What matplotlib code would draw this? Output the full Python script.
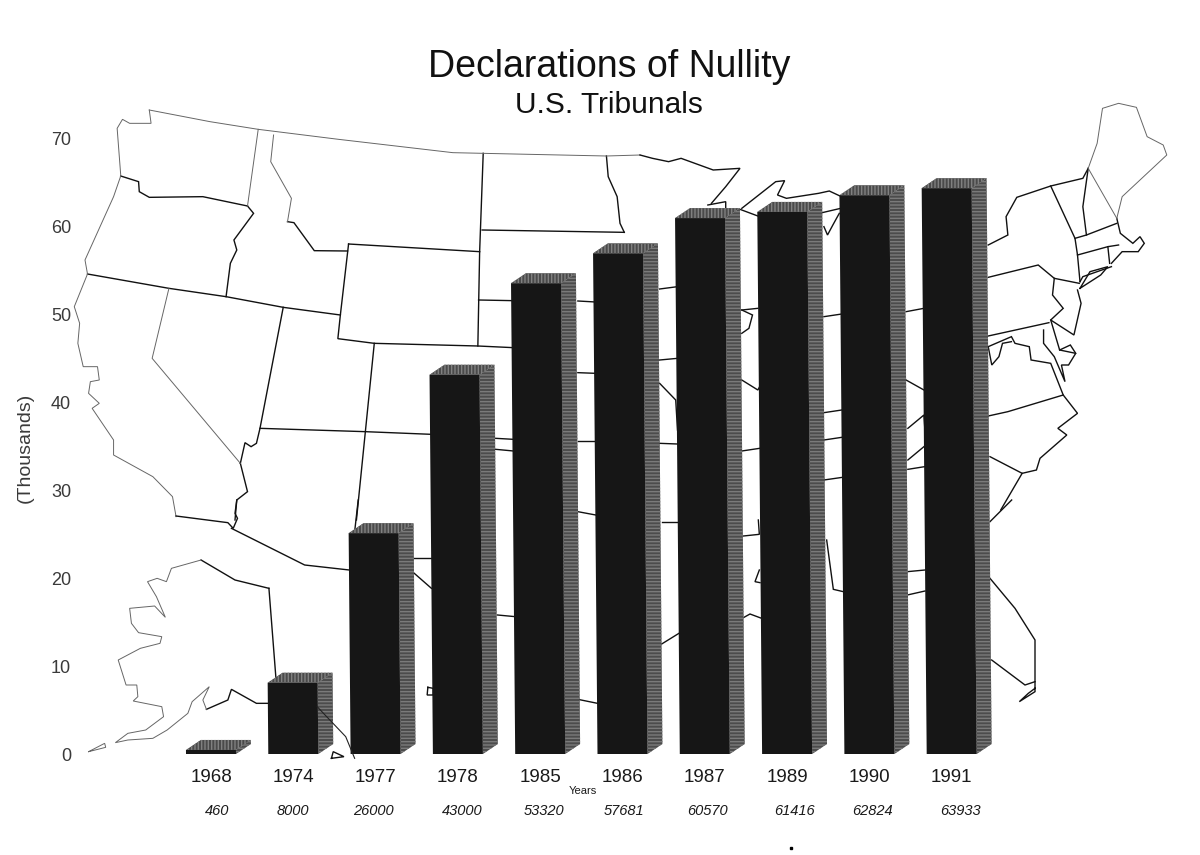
import matplotlib
matplotlib.use('Agg')
import matplotlib.pyplot as plt
from matplotlib.patches import Polygon
from matplotlib.transforms import Affine2D

plt.rcParams['font.family'] = ['Liberation Sans', 'DejaVu Sans']

# --- Dados ---
anos = ['1968', '1974', '1977', '1978', '1985', '1986', '1987', '1989', '1990', '1991']
# altura das barras como aparece na imagem (milhares)
alturas = [0.46, 8.1, 25.1, 43.1, 53.5, 56.9, 60.9, 61.6, 63.5, 64.3]
rotulos_valores = ['460', '8000', '26000', '43000', '53320', '57681', '60570', '61416', '62824', '63933']
ticks_y = [0, 10, 20, 30, 40, 50, 60, 70]

mapa_oeste = [
    [(170,228),(220,245),(222,275),(250,292),(400,290),(525,318)],
    [(525,318),(542,340),(487,420),(495,450),(477,490),(465,590)],
    [(77,522),(305,565),(465,590),(625,622),(785,645)],
    [(637,365),(655,368),(712,452),(805,453)],
    [(808,432),(1175,455)],
    [(808,432),(785,645),(778,716),(880,730),(1170,738),(1270,743)],
    [(1185,160),(1175,455),(1170,738)],
    [(1182,390),(1580,397)],
    [(1172,600),(1270,602)],
    [(1450,603),(1500,606)],
    [(1450,818),(1500,820)],
    [(1530,168),(1535,230),(1560,290),(1568,370),(1580,397)],
    [(505,1090),(525,1175),(495,1200),(490,1260)],
    [(625,622),(560,985),(550,1030),(535,1040),(518,1028),(505,1090)],
    [(560,985),(855,995),(1040,1003)],
    [(1220,1015),(1270,1018)],
    [(1220,1048),(1270,1053)],
    [(1450,1022),(1500,1022)],
    [(880,730),(855,995),(830,1260)],
]
mapa_oeste_fraco = [
    [(250,30),(255,70),(195,70),(175,58),(160,85),(170,225)],
    [(250,30),(420,65),(555,88),(780,118),(1100,158),(1185,160),(1530,168),(1624,165)],
    [(555,88),(525,318)],
    [(170,228),(150,290),(70,480),(77,522)],
    [(598,105),(590,185),(648,295),(637,365)],
    [(305,565),(258,775),(505,1090)],
    [(77,522),(40,620),(55,670),(50,730),(65,800),(105,800),(110,840),(85,845),(80,880),(110,910),(90,925),(150,1020),(150,1065),(260,1130),(315,1190),(325,1250)],
]
mapa_sudoeste = [
    [(325,48),(470,68),(485,85),(497,55),(490,40),(495,0)],
    [(480,85),(685,195),(810,210)],
    [(835,0),(825,95)],
    [(972,175),(1040,175)],
    [(960,190),(1040,265)],
    [(1225,345),(1275,350)],
    [(1450,35),(1500,45)],
    [(1450,598),(1505,610)],
    [(1030,562),(1045,565),(1045,585),(1028,585),(1030,562)],
    [(760,775),(765,755),(795,770),(760,775)],
    [(582,610),(550,610),(480,568),(470,600),(410,628)],
    [(585,265),(605,540)],
    [(395,180),(490,240),(585,265)],
]
mapa_sudoeste_fraco = [
    [(410,628),(400,600),(418,560),(370,605),(358,640),(300,690),(260,715),(190,720),(155,728),(190,700),(240,690),(290,650),(285,620),(205,603),(218,590),(215,555),(185,555),(163,480),(225,445),(280,430),(285,410),(220,398),(200,370),(195,325),(265,318),(295,352),(270,290),(245,245),(272,235),(298,245),(312,205),(395,180)],
    [(80,755),(125,730),(128,742),(80,755)],
]
# esta linha passa por cima da barra de 1974
mapa_sobre_barra = [(720,620),(800,710),(825,775)]
mapa_leste = [
    [(0,195),(35,205),(80,215),(115,205),(205,240),(280,235),(240,290),(200,340)],
    [(190,345),(240,335),(240,352)],
    [(280,358),(330,378)],
    [(285,355),(380,275),(405,272),(385,315),(410,325),(500,310),(530,303),(560,318)],
    [(510,368),(562,355)],
    [(515,410),(525,435),(540,405),(558,370)],
    [(975,465),(1030,435),(1025,380),(1055,322),(1150,288),(1240,265),(1255,235)],
    [(1335,385),(1345,430),(1380,460),(1400,440),(1412,460),(1395,485),(1350,485),(1320,520)],
    [(1150,288),(1218,445),(1225,495),(1232,575)],
    [(1255,235),(1240,350),(1250,435)],
    [(1218,445),(1250,435),(1335,400)],
    [(1225,495),(1310,470),(1340,465)],
    [(1310,470),(1315,520)],
    [(1232,575),(1240,560),(1320,530)],
    [(1232,595),(1260,545),(1310,530),(1290,555),(1232,595)],
    [(975,562),(1115,525),(1160,565),(1230,580)],
    [(1160,565),(1155,615),(1185,655),(1150,690),(1215,735),(1235,640),(1225,600)],
    [(975,738),(1145,698)],
    [(1150,690),(1175,780),(1220,790),(1200,825),(1180,825),(1190,875),(1160,800),(1130,760),(1130,720)],
    [(1175,780),(1205,765),(1220,790)],
    [(975,770),(1040,740),(1050,760),(1090,770),(1095,810),(1150,820),(1185,915)],
    [(975,770),(985,825),(1005,800),(1015,760),(1040,755)],
    [(975,978),(1030,965),(1185,915),(1225,970),(1170,1015),(1195,1035),(1120,1105),(1110,1140),(1070,1150),(980,1100)],
    [(1070,1150),(1010,1260)],
    [(55,597),(105,590)],
    [(285,660),(330,655)],
    [(285,660),(315,675),(305,715),(285,730)],
    [(515,680),(565,672)],
    [(745,665),(795,655)],
    [(55,810),(105,805)],
    [(55,880),(100,930),(105,1020)],
    [(55,1060),(105,1062)],
    [(285,870),(330,900),(335,890)],
    [(285,1083),(335,1075)],
    [(515,968),(565,960)],
    [(515,1050),(565,1042)],
    [(515,1170),(567,1162)],
    [(745,870),(795,900)],
    [(750,1015),(795,975),(797,1008)],
    [(750,1110),(795,1070)],
    [(750,1138),(797,1130)],
]
mapa_leste_fraco = [
    [(1255,235),(1280,160),(1295,55),(1340,40),(1390,52),(1420,140),(1465,165),(1475,195),(1400,270),(1350,320),(1335,385)],
    [(1255,235),(1335,385)],
]
mapa_sudeste = [
    [(1175,0),(1110,65)],
    [(1110,235),(1185,325),(1245,420),(1245,545),(1215,555),(1115,480)],
    [(1245,545),(1245,575),(1198,605),(1225,580),(1245,565)],
    [(125,65),(178,65)],
    [(370,108),(418,103),(415,60)],
    [(418,210),(405,245),(420,248)],
    [(372,352),(390,342),(425,355)],
    [(125,432),(180,398)],
    [(620,120),(640,268),(670,275)],
    [(862,215),(915,210)],
    [(862,285),(915,273)],
]
# (origem x, origem y, escala x, escala y, linhas, cor, espessura)
mapas = [
    (60, 100, 2.8, 3.0, mapa_oeste, '#111111', 1.0),
    (60, 100, 2.8, 3.0, mapa_oeste_fraco, '#666666', 0.7),
    (60, 500, 2.8, 3.0, mapa_sudoeste, '#111111', 1.0),
    (60, 500, 2.8, 3.0, mapa_sudoeste_fraco, '#666666', 0.7),
    (640, 90, 2.8, 3.0, mapa_leste, '#111111', 1.0),
    (640, 90, 2.8, 3.0, mapa_leste_fraco, '#666666', 0.7),
    (620, 500, 3.0, 3.0, mapa_sudeste, '#111111', 1.0),
]

fig = plt.figure(figsize=(12, 8.55), dpi=100, facecolor='white')

# --- Mapa de fundo (coordenadas em pixels) ---
ax_mapa = fig.add_axes([0, 0, 1, 1], zorder=1)
ax_mapa.set_xlim(0, 1200)
ax_mapa.set_ylim(855, 0)
ax_mapa.axis('off')
for ox, oy, sx, sy, linhas, cor, lw in mapas:
    for linha in linhas:
        xs = [ox + p[0] / sx for p in linha]
        ys = [oy + p[1] / sy for p in linha]
        ax_mapa.plot(xs, ys, color=cor, lw=lw, solid_joinstyle='miter')
ax_mapa.plot([791], [848], marker='s', ms=2, color='black')

# --- Barras ---
passo = 82.3
ax = fig.add_axes([60 / 1200, (855 - 754) / 855, 940 / 1200, 616 / 855], zorder=2)
ax.patch.set_alpha(0)
ax.set_xlim((60 - 211) / passo, (1000 - 211) / passo)
ax.set_ylim(0, 70)

# a folha foi digitalizada meio torta: as barras inclinam para a esquerda no topo
inclinacao = Affine2D.from_values(1, 0, -(5 / passo) / 64, 1, 0, 0) + ax.transData

largura = 50 / passo
dx = 15 / passo
dy = 10 / 8.8
for i, h in enumerate(alturas):
    esq = i - largura / 2
    dir_ = i + largura / 2
    ax.add_patch(Polygon([(dir_, 0), (dir_ + dx, dy), (dir_ + dx, h + dy), (dir_, h)],
                         facecolor='#4c4c4c', edgecolor='#7a7a7a', hatch='-----', lw=0,
                         zorder=3, transform=inclinacao))
    ax.add_patch(Polygon([(esq, h), (esq + dx, h + dy), (dir_ + dx, h + dy), (dir_, h)],
                         facecolor='#4a4a4a', edgecolor='#808080', hatch='|||||', lw=0,
                         zorder=3, transform=inclinacao))
ax.bar(range(len(alturas)), alturas, width=largura, color='#161616', zorder=4, transform=inclinacao)

for s in ax.spines.values():
    s.set_visible(False)
ax.set_yticks(ticks_y)
ax.set_xticks(range(len(anos)))
ax.set_xticklabels(anos, fontsize=13.5, color='#1a1a1a')
ax.tick_params(axis='x', length=0, pad=11)
ax.tick_params(axis='y', length=0, pad=-8, labelsize=13, labelcolor='#3a3a3a')

xs_sobre = [60 + p[0] / 2.8 for p in mapa_sobre_barra]
ys_sobre = [500 + p[1] / 3.0 for p in mapa_sobre_barra]
ax.plot(xs_sobre, ys_sobre, color='#222222', lw=0.8, zorder=5, transform=ax_mapa.transData, clip_on=False)

# rotulos em italico embaixo de cada ano
deslocamentos = [6, 0, -2, 4, 4, 1, 3, 7, 3, 9]
for i, texto in enumerate(rotulos_valores):
    ax.annotate(texto, xy=(i, 0), xytext=(deslocamentos[i] * 0.72, -57 * 0.72),
                textcoords='offset points', ha='center', va='center',
                fontsize=10.5, style='italic', color='#1a1a1a')

ax_mapa.text(609, 67, 'Declarations of Nullity', fontsize=27, ha='center', va='center', color='#111111')
ax_mapa.text(609, 105, 'U.S. Tribunals', fontsize=21.5, ha='center', va='center', color='#111111')
ax_mapa.text(25, 448, '(Thousands)', fontsize=14, rotation=90, ha='center', va='center', color='#3a3a3a')
ax_mapa.text(583, 791, 'Years', fontsize=8, ha='center', va='center', color='#1a1a1a')

fig.savefig('out.png', dpi=100)
plt.close()
